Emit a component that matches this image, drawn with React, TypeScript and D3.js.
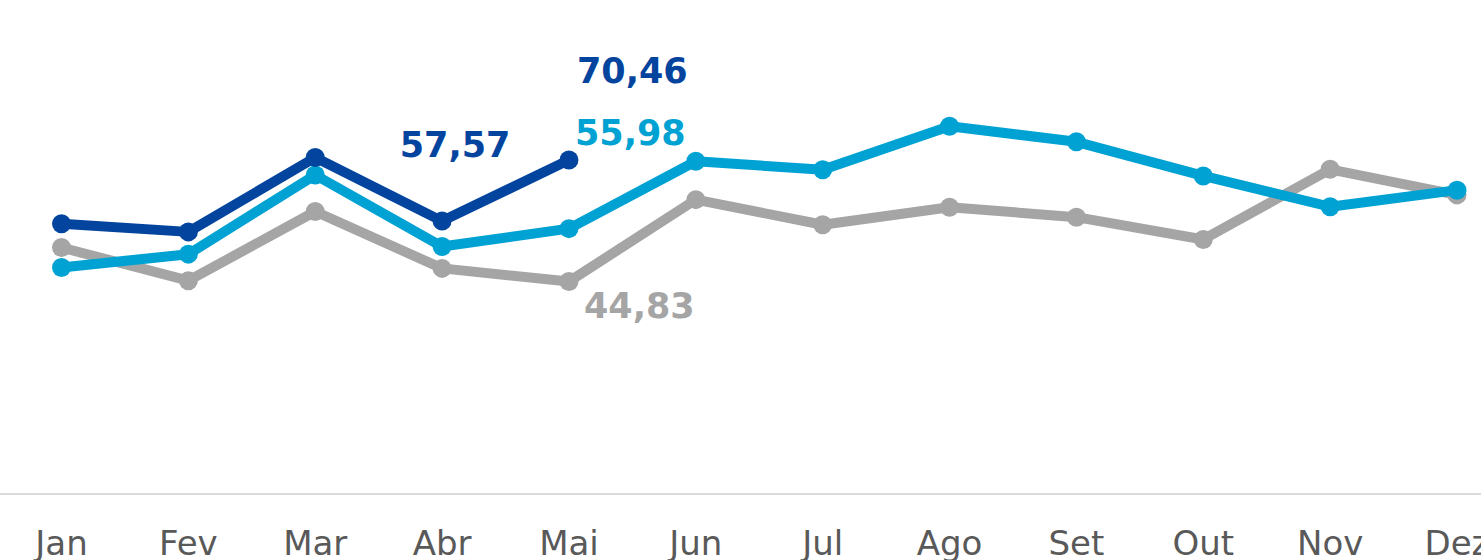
import React, { useRef, useEffect } from 'react';
import * as d3 from 'd3';

// data
const months = ['Jan', 'Fev', 'Mar', 'Abr', 'Mai', 'Jun', 'Jul', 'Ago', 'Set', 'Out', 'Nov', 'Dez'];
const serieAtual = [57.0, 55.3, 71.0, 57.57, 70.46];
const serieAnterior = [47.8, 50.6, 67.3, 52.2, 55.98, 70.2, 68.4, 77.6, 74.3, 67.1, 60.6, 64.1];
const serieAntiga = [52.0, 45.0, 59.6, 47.6, 44.83, 62.1, 56.8, 60.5, 58.4, 53.7, 68.5, 63.1];

// labels: [series index, month index, dx, dy, anchor]
const labels: [number, number, number, number, string][] = [
  [2, 4, 8, -77, 'start'],
  [1, 4, 6, -84, 'start'],
  [2, 3, 13, -64, 'middle'],
  [0, 4, 15, 36, 'start'],
];

export default function App() {
  const ref = useRef<SVGSVGElement>(null);
  const width = 1481;
  const height = 560;

  useEffect(() => {
    const svg = d3.select(ref.current);
    svg.selectAll('*').remove();

    const x = d3.scalePoint<string>().domain(months).range([61.5, 1457]);
    const y = d3.scaleLinear().domain([0, 100]).range([494, 20]);

    const series = [
      { values: serieAntiga, color: '#A5A5A5' },
      { values: serieAnterior, color: '#00A2D3' },
      { values: serieAtual, color: '#03449E' },
    ];

    // baseline
    svg.append('line')
      .attr('x1', 0)
      .attr('x2', width)
      .attr('y1', y(0))
      .attr('y2', y(0))
      .attr('stroke', '#D9D9D9')
      .attr('stroke-width', 2);

    // month labels
    svg.selectAll('.month')
      .data(months)
      .enter()
      .append('text')
        .attr('x', d => x(d)!)
        .attr('y', 555)
        .attr('text-anchor', 'middle')
        .attr('font-family', 'DejaVu Sans, sans-serif')
        .attr('font-size', 34)
        .attr('fill', '#595959')
        .text(d => d);

    const line = d3.line<number>()
      .x((_, i) => x(months[i])!)
      .y(d => y(d));

    series.forEach(s => {
      svg.append('path')
        .attr('d', line(s.values))
        .attr('fill', 'none')
        .attr('stroke', s.color)
        .attr('stroke-width', 10)
        .attr('stroke-linejoin', 'round');

      svg.selectAll(null)
        .data(s.values)
        .enter()
        .append('circle')
          .attr('cx', (_, i) => x(months[i])!)
          .attr('cy', d => y(d))
          .attr('r', 9.5)
          .attr('fill', s.color);
    });

    // value labels
    const fmt = (v: number) => d3.format('.2f')(v).replace('.', ',');
    labels.forEach(([si, mi, dx, dy, anchor]) => {
      const s = series[si];
      const v = s.values[mi];
      svg.append('text')
        .attr('x', x(months[mi])! + dx)
        .attr('y', y(v) + dy)
        .attr('text-anchor', anchor)
        .attr('font-family', 'DejaVu Sans, sans-serif')
        .attr('font-weight', 'bold')
        .attr('font-size', 35)
        .attr('fill', s.color)
        .text(fmt(v));
    });
  }, []);

  return (
    <svg
      ref={ref}
      width={width}
      height={height}
      style={{ position: 'absolute', left: 0, top: 0, display: 'block', background: '#fff' }}
    />
  );
}
